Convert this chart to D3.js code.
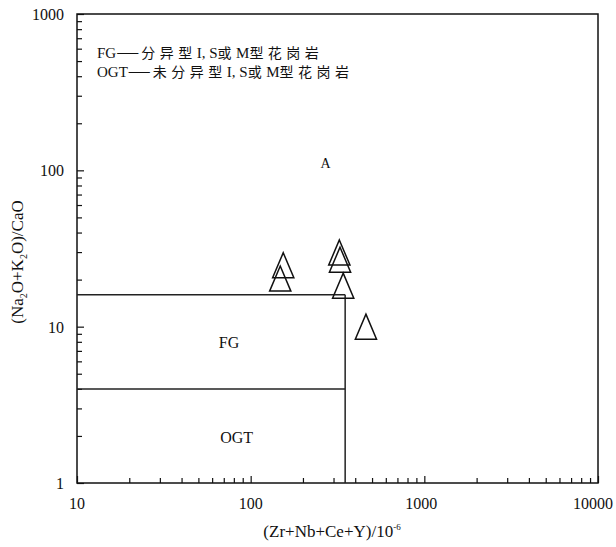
<!DOCTYPE html>
<html>
<head>
<meta charset="utf-8">
<script src="https://cdn.jsdelivr.net/npm/d3@7"></script>
<style>
  html, body { margin: 0; padding: 0; background: #fff; }
  svg { display: block; }
  text { font-family: "Liberation Serif", "Times New Roman", serif; fill: #111; }
  .cjk { font-family: "Noto Sans CJK SC", sans-serif; }
</style>
</head>
<body>
<script>
// ---- data ----
const xDomain = [10, 10000];
const yDomain = [1, 1000];
const xTickLabels = ["10", "100", "1000", "10000"];
const yTickLabels = ["1", "10", "100", "1000"];
const sampleX = [154, 148, 324, 327, 341, 461];
const sampleY = [24.7, 20.3, 29.8, 26.8, 18.3, 10.0];
// field boundaries (Whalen et al.)
const boundaryX = 350;
const fgOgtY = 4;
const aFgY = 16;
const fieldNames = ["A", "FG", "OGT"];
const fieldPosX = [270, 75, 83];
const fieldPosY = [111, 7.9, 1.94];
const legendLines = ["FG—分异型I, S或M型花岗岩", "OGT—未分异型I, S或M型花岗岩"];
const xTitle = "(Zr+Nb+Ce+Y)/10";
const xTitleSup = "-6";

// ---- layout ----
const W = 616, H = 547;
const m = { left: 77, right: 18, top: 14, bottom: 64 };
const svg = d3.select("body").append("svg").attr("width", W).attr("height", H);

const x = d3.scaleLog().domain(xDomain).range([m.left, W - m.right]);
const y = d3.scaleLog().domain(yDomain).range([H - m.bottom, m.top]);

const isMajor = v => Math.abs(Math.log10(v) - Math.round(Math.log10(v))) < 1e-9;

// bottom axis: inward ticks
const xAxis = d3.axisBottom(x).tickValues(x.ticks()).tickSizeInner(-5).tickSizeOuter(0).tickFormat(() => "");
const gx = svg.append("g").attr("transform", `translate(0,${H - m.bottom})`).call(xAxis);
gx.select(".domain").remove();
gx.selectAll(".tick line").attr("stroke", "#111").attr("stroke-width", 1.2)
  .attr("y2", d => isMajor(d) ? -7 : -5);

const yAxis = d3.axisLeft(y).tickValues(y.ticks()).tickSizeInner(-5).tickSizeOuter(0).tickFormat(() => "");
const gy = svg.append("g").attr("transform", `translate(${m.left},0)`).call(yAxis);
gy.select(".domain").remove();
gy.selectAll(".tick line").attr("stroke", "#111").attr("stroke-width", 1.2)
  .attr("x2", d => isMajor(d) ? 7 : 5);

// tick labels
const xMaj = x.ticks().filter(isMajor);
svg.selectAll(".xl").data(xMaj).enter().append("text")
  .attr("x", (d, i) => x(d) - (i === 3 ? 5 : i === 2 ? 3 : 0)).attr("y", H - m.bottom + 26)
  .attr("text-anchor", "middle").attr("font-size", 16)
  .text((d, i) => xTickLabels[i]);
const yMaj = y.ticks().filter(isMajor);
svg.selectAll(".yl").data(yMaj).enter().append("text")
  .attr("x", m.left - 13).attr("y", d => y(d) + 6)
  .attr("text-anchor", "end").attr("font-size", 16)
  .text((d, i) => yTickLabels[i]);

// frame
svg.append("rect")
  .attr("x", x(xDomain[0])).attr("y", y(yDomain[1]))
  .attr("width", x(xDomain[1]) - x(xDomain[0]))
  .attr("height", y(yDomain[0]) - y(yDomain[1]))
  .attr("fill", "none").attr("stroke", "#111").attr("stroke-width", 1.5);

// field boundaries
const bnd = svg.append("g").attr("stroke", "#222").attr("stroke-width", 1.5).attr("fill", "none");
bnd.append("line").attr("x1", x(xDomain[0])).attr("x2", x(boundaryX)).attr("y1", y(aFgY)).attr("y2", y(aFgY));
bnd.append("line").attr("x1", x(xDomain[0])).attr("x2", x(boundaryX)).attr("y1", y(fgOgtY)).attr("y2", y(fgOgtY));
bnd.append("line").attr("x1", x(boundaryX)).attr("x2", x(boundaryX)).attr("y1", y(yDomain[0])).attr("y2", y(aFgY));

// field labels
svg.selectAll(".fl").data(fieldNames).enter().append("text")
  .attr("x", (d, i) => x(fieldPosX[i])).attr("y", (d, i) => y(fieldPosY[i]) + 5)
  .attr("text-anchor", "middle").attr("font-size", (d, i) => i === 0 ? 14 : 16)
  .text(d => d);

// legend text: CJK runs spaced, dash long, latin runs in serif
const segRe = /\u2014|[\u4e00-\u9fff]+|[^\u4e00-\u9fff\u2014]+/g;
legendLines.forEach((line, i) => {
  const t = svg.append("text").attr("x", 97).attr("y", 58 + i * 19).attr("font-size", 15);
  line.match(segRe).forEach(seg => {
    const ts = t.append("tspan").text(seg);
    if (seg === "\u2014") {
      ts.attr("font-size", 21).attr("dx", 1).attr("dy", 1);
    } else if (/[\u4e00-\u9fff]/.test(seg)) {
      ts.attr("class", "cjk").attr("font-size", 14).attr("letter-spacing", 4.5);
      if (t.selectAll("tspan").size() === 3) ts.attr("dy", -1).attr("dx", 3);
    }
  });
});

// samples: open triangles (slightly tall, like the original)
const tallTriangle = {
  draw(ctx, size) {
    const w = Math.sqrt(size) * 1.4, h = w * 1.18;
    ctx.moveTo(0, -h / 2);
    ctx.lineTo(w / 2, h / 2);
    ctx.lineTo(-w / 2, h / 2);
    ctx.closePath();
  }
};
const tri = d3.symbol().type(tallTriangle).size(230);
svg.selectAll(".pt").data(sampleX).enter().append("path")
  .attr("d", tri)
  .attr("transform", (d, i) => `translate(${x(d)},${y(sampleY[i])})`)
  .attr("fill", "none").attr("stroke", "#111").attr("stroke-width", 1.5);

// axis titles
const xt = svg.append("text").attr("x", 332).attr("y", H - m.bottom + 54)
  .attr("text-anchor", "middle").attr("font-size", 17);
xt.append("tspan").text(xTitle);
xt.append("tspan").attr("dy", -7).attr("font-size", 9).text(xTitleSup);

const yt = svg.append("text")
  .attr("transform", `translate(23,262) rotate(-90)`)
  .attr("text-anchor", "middle").attr("font-size", 17);
yt.append("tspan").text("(Na");
yt.append("tspan").attr("dy", 4).attr("font-size", 10).text("2");
yt.append("tspan").attr("dy", -4).text("O+K");
yt.append("tspan").attr("dy", 4).attr("font-size", 10).text("2");
yt.append("tspan").attr("dy", -4).text("O)/CaO");
</script>
</body>
</html>
